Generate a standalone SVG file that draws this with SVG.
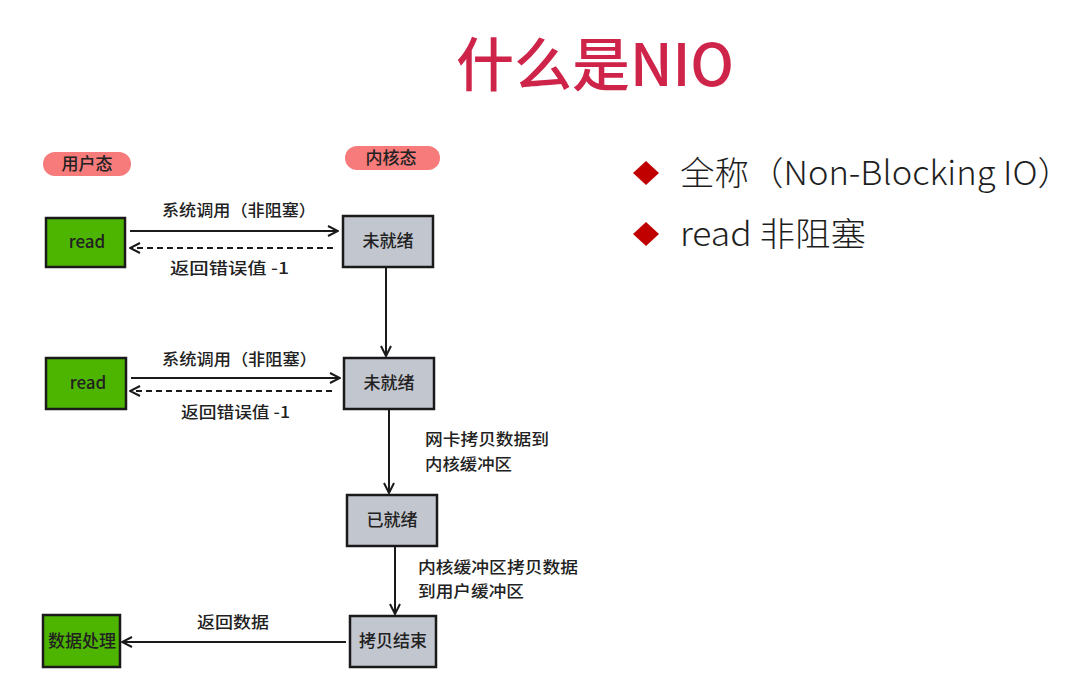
<svg xmlns="http://www.w3.org/2000/svg" width="1075" height="690" viewBox="0 0 1075 690">
<style>
text{font-family:"Noto Sans CJK SC","Liberation Sans",sans-serif;}
.node rect{stroke:#1a1a1a;stroke-width:2.5;}
.g{fill:#4db400;}
.k{fill:#c2c6cf;}
.nt{font-size:17px;fill:#222;text-anchor:middle;font-weight:500;}
.lb{font-size:16px;fill:#222;font-weight:500;}
.pill{fill:#f77b7b;}
.conn{stroke:#1a1a1a;stroke-width:2;fill:none;}
.dash{stroke-dasharray:6 4;}
.bt{font-size:33px;fill:#1e1e1e;font-weight:300;}
</style>
<defs>
<marker id="ah" viewBox="0 0 12 12" refX="11" refY="6" markerWidth="12" markerHeight="12" markerUnits="userSpaceOnUse" orient="auto">
<path d="M1,1 L11,6 L1,11" fill="none" stroke="#1a1a1a" stroke-width="2"/>
</marker>
</defs>
<rect width="1075" height="690" fill="#fff"/>
<text x="595" y="86" font-size="58" fill="#cf2449" text-anchor="middle" style="font-weight:500">什么是NIO</text>

<g id="pill-user"><rect class="pill" x="43" y="152" width="88" height="24" rx="12"/><text class="nt" x="87" y="170">用户态</text></g>
<g id="pill-kernel"><rect class="pill" x="345" y="146" width="95" height="24" rx="12"/><text class="nt" x="391" y="164">内核态</text></g>

<g id="read1" class="node"><rect class="g" x="46" y="218" width="79" height="49"/><text class="nt" x="87" y="248">read</text></g>
<g id="notready1" class="node"><rect class="k" x="343" y="216" width="90" height="51"/><text class="nt" x="388" y="247">未就绪</text></g>
<g id="read2" class="node"><rect class="g" x="46" y="358" width="80" height="51"/><text class="nt" x="88" y="389">read</text></g>
<g id="notready2" class="node"><rect class="k" x="344" y="358" width="90" height="51"/><text class="nt" x="389" y="389">未就绪</text></g>
<g id="ready" class="node"><rect class="k" x="347" y="495" width="90" height="51"/><text class="nt" x="392" y="526">已就绪</text></g>
<g id="copydone" class="node"><rect class="k" x="350" y="616" width="86" height="51"/><text class="nt" x="393" y="647">拷贝结束</text></g>
<g id="process" class="node"><rect class="g" x="43" y="615" width="77" height="52"/><text class="nt" x="82" y="647">数据处理</text></g>

<g id="connectors">
<line class="conn" x1="130" y1="231" x2="338" y2="231" marker-end="url(#ah)"/>
<line class="conn dash" x1="333" y1="248" x2="130" y2="248" marker-end="url(#ah)"/>
<line class="conn" x1="386" y1="268" x2="386" y2="356" marker-end="url(#ah)"/>
<line class="conn" x1="131" y1="378" x2="340" y2="378" marker-end="url(#ah)"/>
<line class="conn dash" x1="332" y1="391" x2="130" y2="391" marker-end="url(#ah)"/>
<line class="conn" x1="389" y1="410" x2="389" y2="493" marker-end="url(#ah)"/>
<line class="conn" x1="395" y1="547" x2="395" y2="614" marker-end="url(#ah)"/>
<line class="conn" x1="346" y1="642" x2="122" y2="642" marker-end="url(#ah)"/>
<text class="lb" x="162" y="216" textLength="154" lengthAdjust="spacingAndGlyphs">系统调用（非阻塞）</text>
<text class="lb" x="170" y="274" textLength="119" lengthAdjust="spacingAndGlyphs">返回错误值 -1</text>
<text class="lb" x="162" y="365" textLength="155" lengthAdjust="spacingAndGlyphs">系统调用（非阻塞）</text>
<text class="lb" x="181" y="418" textLength="109" lengthAdjust="spacingAndGlyphs">返回错误值 -1</text>
<text class="lb" x="425" y="445" textLength="124" lengthAdjust="spacingAndGlyphs">网卡拷贝数据到</text>
<text class="lb" x="425" y="470" textLength="87" lengthAdjust="spacingAndGlyphs">内核缓冲区</text>
<text class="lb" x="418" y="573" textLength="160" lengthAdjust="spacingAndGlyphs">内核缓冲区拷贝数据</text>
<text class="lb" x="418" y="597" textLength="106" lengthAdjust="spacingAndGlyphs">到用户缓冲区</text>
<text class="lb" x="197" y="628" textLength="72" lengthAdjust="spacingAndGlyphs">返回数据</text>
</g>

<g id="bullets">
<path d="M646,161 L659,173 L646,185 L633,173 Z" fill="#c00000"/>
<text class="bt" x="680" y="185" textLength="392" lengthAdjust="spacingAndGlyphs">全称（Non-Blocking IO）</text>
<path d="M646,222 L659,234 L646,246 L633,234 Z" fill="#c00000"/>
<text class="bt" x="680" y="246" textLength="186" lengthAdjust="spacingAndGlyphs">read 非阻塞</text>
</g>
</svg>
